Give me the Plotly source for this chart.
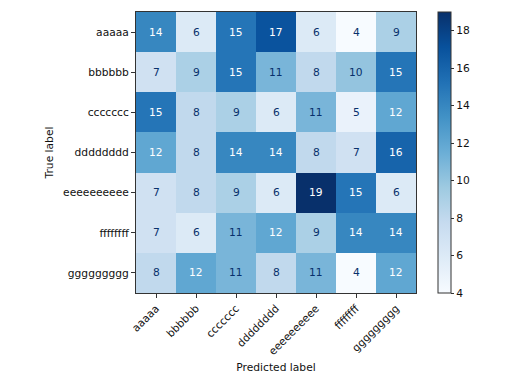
import plotly.graph_objects as go

labels = ["aaaaa", "bbbbbb", "ccccccc", "dddddddd", "eeeeeeeeee", "ffffffff", "ggggggggg"]
matrix = [
    [14, 6, 15, 17, 6, 4, 9],
    [7, 9, 15, 11, 8, 10, 15],
    [15, 8, 9, 6, 11, 5, 12],
    [12, 8, 14, 14, 8, 7, 16],
    [7, 8, 9, 6, 19, 15, 6],
    [7, 6, 11, 12, 9, 14, 14],
    [8, 12, 11, 8, 11, 4, 12],
]
cbar_ticks = [4, 6, 8, 10, 12, 14, 16, 18]

blues = ["#f7fbff", "#deebf7", "#c6dbef", "#9ecae1", "#6baed6",
         "#4292c6", "#2171b5", "#08519c", "#08306b"]
cscale = [[i / (len(blues) - 1), c] for i, c in enumerate(blues)]

vals = [v for r in matrix for v in r]
zmin, zmax = min(vals), max(vals)
thresh = (zmin + zmax) / 2

font = "DejaVu Sans"
fs = 10.7
txt = "#111"
fig = go.Figure(go.Heatmap(
    z=matrix, x=labels, y=labels, colorscale=cscale, zmin=zmin, zmax=zmax,
    colorbar=dict(
        x=1.078, xanchor="left", xref="paper", thickness=13, len=1, lenmode="fraction",
        xpad=0, ypad=0,
        y=0.5, yanchor="middle", outlinewidth=1, outlinecolor="#333",
        tickvals=cbar_ticks, ticks="outside", ticklen=3, tickcolor="#333",
        tickfont=dict(family=font, size=fs, color=txt),
    ),
    hoverinfo="skip",
))

annotations = []
for i, row in enumerate(matrix):
    for j, v in enumerate(row):
        annotations.append(dict(
            x=labels[j], y=labels[i], xref="x", yref="y", text=str(v), showarrow=False,
            font=dict(family=font, size=fs, color="#ffffff" if v > thresh else "#08306b"),
        ))

fig.update_layout(
    width=512, height=384,
    margin=dict(l=128, r=104, t=4, b=99),
    paper_bgcolor="white", plot_bgcolor="white",
    annotations=annotations,
    font=dict(family=font, size=fs, color=txt),
    xaxis=dict(
        title=dict(text="Predicted label", font=dict(family=font, size=fs, color=txt), standoff=6),
        tickangle=-45, ticks="outside", ticklen=4, tickcolor="#333",
        showline=True, linecolor="#333", linewidth=1, mirror=True,
        showgrid=False, zeroline=False, automargin=False,
        tickfont=dict(family=font, size=fs, color=txt),
    ),
    yaxis=dict(
        title=dict(text="True label", font=dict(family=font, size=fs, color=txt), standoff=7),
        autorange="reversed", ticks="outside", ticklen=4, tickcolor="#333",
        showline=True, linecolor="#333", linewidth=1, mirror=True,
        showgrid=False, zeroline=False, automargin=False,
        tickfont=dict(family=font, size=fs, color=txt),
    ),
)

fig.write_html("out.html")
